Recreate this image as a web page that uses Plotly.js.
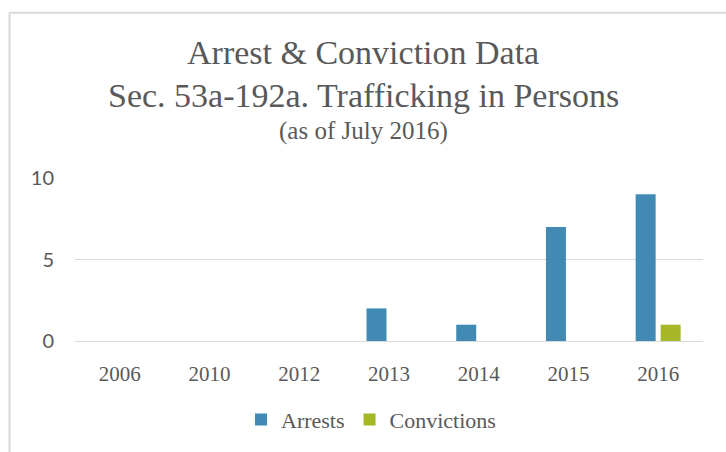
<!DOCTYPE html>
<html>
<head>
<meta charset="utf-8">
<script src="https://cdn.plot.ly/plotly-3.0.1.min.js"></script>
<style>
html,body{margin:0;padding:0;background:#fff;}
#chart{width:726px;height:452px;}
</style>
</head>
<body>
<div id="chart"></div>
<script>
var years = ["2006", "2010", "2012", "2013", "2014", "2015", "2016"];
var arrests = [0, 0, 0, 2, 1, 7, 9];
var convictions = [0, 0, 0, 0, 0, 0, 1];
var titleLines = ["Arrest &amp; Conviction Data", "Sec. 53a-192a. Trafficking in Persons", "(as of July 2016)"];
var yTicks = [0, 5, 10];

var W = 726, H = 452;
var L = 75, R = 703, T = 178.3, B = 343.3;
function px(x){ return (x - L) / (R - L); }
function py(y){ return (B - y) / (B - T); }

var serif = "Liberation Serif, Times New Roman, serif";
var gray = "#595959";

var traces = [
  {type: "bar", name: "Arrests", x: years, y: arrests, marker: {color: "#418AB3"}},
  {type: "bar", name: "Convictions", x: years, y: convictions, marker: {color: "#A6B727"}}
];

var layout = {
  width: W, height: H,
  margin: {l: L, r: W - R, t: T, b: H - B, pad: 0},
  paper_bgcolor: "#ffffff",
  plot_bgcolor: "#ffffff",
  barmode: "group",
  bargap: 0.443,
  bargroupgap: 0.2,
  showlegend: true,
  hovermode: false,
  legend: {
    orientation: "h", x: px(371), xanchor: "center", y: py(423), yanchor: "middle",
    font: {family: serif, size: 22, color: gray},
    traceorder: "normal"
  },
  xaxis: {
    type: "category",
    tickfont: {family: serif, size: 21, color: gray},
    ticks: "outside", ticklen: 14, tickcolor: "rgba(0,0,0,0)",
    showline: false, showgrid: false, zeroline: false, fixedrange: true
  },
  yaxis: {
    range: [0, 10],
    tickvals: yTicks,
    ticktext: yTicks.map(String),
    tickfont: {family: "Lato, sans-serif", size: 20, color: gray},
    ticks: "outside", ticklen: 16, tickcolor: "rgba(0,0,0,0)",
    showgrid: true, gridcolor: "#d9d9d9", gridwidth: 1,
    zeroline: true, zerolinecolor: "#d9d9d9", zerolinewidth: 1,
    showline: false, fixedrange: true
  },
  annotations: [
    {text: titleLines[0], xref: "paper", yref: "paper", x: px(363), y: py(51), xanchor: "center", yanchor: "middle", showarrow: false, font: {family: serif, size: 34, color: gray}},
    {text: titleLines[1], xref: "paper", yref: "paper", x: px(363), y: py(95), xanchor: "center", yanchor: "middle", showarrow: false, font: {family: serif, size: 34, color: gray}},
    {text: titleLines[2], xref: "paper", yref: "paper", x: px(363), y: py(131), xanchor: "center", yanchor: "middle", showarrow: false, font: {family: serif, size: 25, color: gray}}
  ],
  shapes: [
    {type: "line", xref: "paper", yref: "paper", x0: px(9.5), x1: px(9.5), y0: py(10.5), y1: py(460), line: {color: "#d9d9d9", width: 2}},
    {type: "line", xref: "paper", yref: "paper", x0: px(9.5), x1: px(740), y0: py(11), y1: py(11), line: {color: "#d9d9d9", width: 2}}
  ]
};

Plotly.newPlot("chart", traces, layout, {displayModeBar: false, staticPlot: true});
</script>
</body>
</html>
